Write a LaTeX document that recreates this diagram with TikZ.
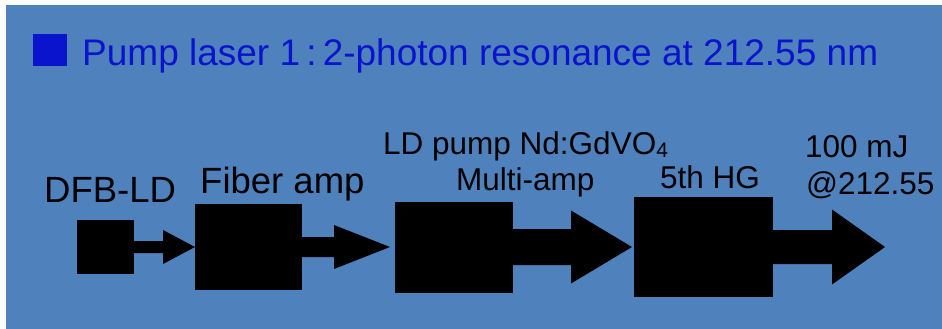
\documentclass[tikz,border=0pt]{standalone}
\usepackage{fontspec}
\setmainfont{Liberation Sans}
\usetikzlibrary{calc}
\definecolor{slide}{HTML}{4F81BD}
\definecolor{headblue}{HTML}{0A14CC}
\tikzset{
  block/.style={fill=black,inner sep=0pt,outer sep=0pt},
  lbl/.style={anchor=base west,inner sep=0pt,font=\fontsize{31.5}{36}\selectfont},
  biglbl/.style={anchor=base west,inner sep=0pt,font=\fontsize{36.5}{42}\selectfont}
}
% beam arrow: start anchor, tip, shaft half-width, head half-width, head length
\newcommand{\beam}[5]{%
  \fill ($(#1)+(0,#3)$) -- ($(#2)+(-#5,#3)$) -- ($(#2)+(-#5,#4)$) -- (#2)
    -- ($(#2)+(-#5,-#4)$) -- ($(#2)+(-#5,-#3)$) -- ($(#1)+(0,-#3)$) -- cycle;}
\begin{document}
\begin{tikzpicture}[x=1pt,y=-1pt]
\useasboundingbox (0,0) rectangle (942,329);
\fill[slide] (6,5) rectangle (942,329);
% heading
\fill[headblue] (33,34) rectangle (67,66);
\node[anchor=base west,inner sep=0pt,text=headblue,font=\fontsize{37}{44}\selectfont] (head) at (82,66) {Pump laser 1\,:\,2-photon resonance at 212.55 nm};
% chain of stages
\node[block,minimum width=57pt,minimum height=54pt] (dfb) at (105.5,247) {};
\node[block,minimum width=107pt,minimum height=86pt] (fiber) at (248.5,247) {};
\node[block,minimum width=118pt,minimum height=91pt] (multi) at (454,247) {};
\node[block,minimum width=139pt,minimum height=100pt] (hg) at (703.5,247) {};
\coordinate (out) at (885,247);
\beam{dfb.east}{fiber.west}{6}{17}{32}
\beam{fiber.east}{$(multi.west)+(-5,0)$}{10}{22}{56}
\beam{multi.east}{$(hg.west)+(-2,0)$}{18}{36.5}{61}
\beam{hg.east}{out}{17}{37.5}{53}
% labels
\node[biglbl] (dfbtxt) at (44,202) {DFB-LD};
\node[biglbl] (fibertxt) at (200,193) {Fiber amp};
\node[lbl] (pumptxt) at (383,154) {LD pump Nd:GdVO\raisebox{-3pt}{\fontsize{21}{21}\selectfont 4}};
\node[lbl] (multitxt) at (456,190) {Multi-amp};
\node[lbl] (hgtxt) at (660,188) {5th HG};
\node[lbl] (mjtxt) at (805,157) {100 mJ};
\node[lbl] (wltxt) at (806,194) {@212.55};
\end{tikzpicture}
\end{document}
